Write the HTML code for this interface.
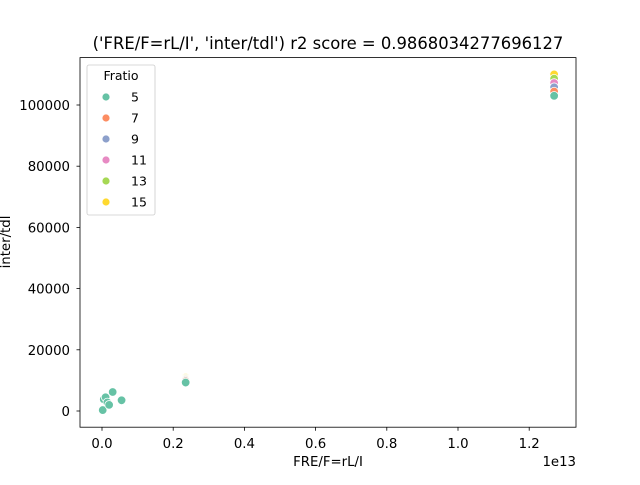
<!DOCTYPE html>
<html><head><meta charset="utf-8"><style>
body{margin:0;background:#fff}
svg text{font-family:"DejaVu Sans","Liberation Sans",sans-serif;fill:#000}
</style></head><body>
<svg id="c" width="640" height="480" xmlns="http://www.w3.org/2000/svg">
<rect width="640" height="480" fill="#fff"/>
<text x="328" y="49" font-size="16.4" text-anchor="middle">('FRE/F=rL/I', 'inter/tdl') r2 score = 0.9868034277696127</text>
<g id="ticks"></g>
<g id="pts"></g>
<rect x="80" y="57.6" width="496" height="369.6" fill="none" stroke="#000" stroke-width="0.8"/>
<text x="328" y="466" font-size="13.3" text-anchor="middle">FRE/F=rL/I</text>
<text x="576" y="466" font-size="13.3" text-anchor="end">1e13</text>
<text transform="translate(10,242) rotate(-90)" font-size="13.3" text-anchor="middle">inter/tdl</text>
<g>
<rect x="87" y="65" width="68" height="150" rx="2" fill="#fff" fill-opacity="0.8" stroke="#ccc" stroke-width="0.8"/>
<text x="121" y="80" font-size="12.5" text-anchor="middle">Fratio</text>
<g id="leg"></g>
</g>
</svg>
<script>
const hues=[5,7,9,11,13,15];
const colors=["#66c2a5","#fc8d62","#8da0cb","#e78ac3","#a6d854","#ffd92f"];
const xTicks=[0,0.2,0.4,0.6,0.8,1.0,1.2];
const yTicks=[0,20000,40000,60000,80000,100000];
// x values in units of 1e13
const xs5=[0.002,0.005,0.01,0.015,0.02,0.03,0.055,0.235,1.27];
const ys5=[300,3800,4500,2800,2000,6200,3500,9300,103000];
const xsTop=[1.27,1.27,1.27,1.27,1.27];
const ysTop=[104400,105800,107200,108600,110000];
const xsMid=[0.235,0.235,0.235,0.235,0.235];
const ysMid=[9700,10000,10300,10600,11000];
const X=v=>102+v/0.2*71.2;
const Y=v=>411-v*0.00306;
const NS="http://www.w3.org/2000/svg";
function mk(t,a,p){const e=document.createElementNS(NS,t);for(const k in a)e.setAttribute(k,a[k]);p.appendChild(e);return e;}
const tk=document.getElementById('ticks');
xTicks.forEach(v=>{
 const l=mk('line',{x1:X(v),x2:X(v),y1:427.2,y2:430.7,stroke:'#000','stroke-width':0.8},tk);
 
 
 const t=mk('text',{x:X(v),y:448,'font-size':13.3,'text-anchor':'middle'},tk);t.textContent=v.toFixed(1);
 
 
});
yTicks.forEach(v=>{
 const l=mk('line',{x1:76.5,x2:80,y1:Y(v),y2:Y(v),stroke:'#000','stroke-width':0.8},tk);
 
 
 const t=mk('text',{x:70,y:Y(v)+5,'font-size':13.3,'text-anchor':'end'},tk);t.textContent=v;
 
 
});
const pg=document.getElementById('pts');
function dot(x,y,c,op){const d=mk('circle',{cx:X(x),cy:Y(y),r:4.3,fill:c,stroke:'#fff','stroke-width':0.8,'fill-opacity':op},pg);
 
 }
for(let i=xsTop.length-1;i>=0;i--){dot(xsTop[i],ysTop[i],colors[i+1],1);}
for(let i=xsMid.length-1;i>=0;i--){dot(xsMid[i],ysMid[i],colors[i+1],0.35);}
xs5.forEach((x,i)=>dot(x,ys5[i],colors[0],1));
const lg=document.getElementById('leg');
hues.forEach((h,i)=>{
 const y=97+i*21;
 const c=mk('circle',{cx:106,cy:y,r:4,fill:colors[i],stroke:'#fff','stroke-width':0.8},lg);
 
 
 const t=mk('text',{x:131,y:y+4.5,'font-size':12.5},lg);t.textContent=h;
 
 
});
</script>
</body></html>
